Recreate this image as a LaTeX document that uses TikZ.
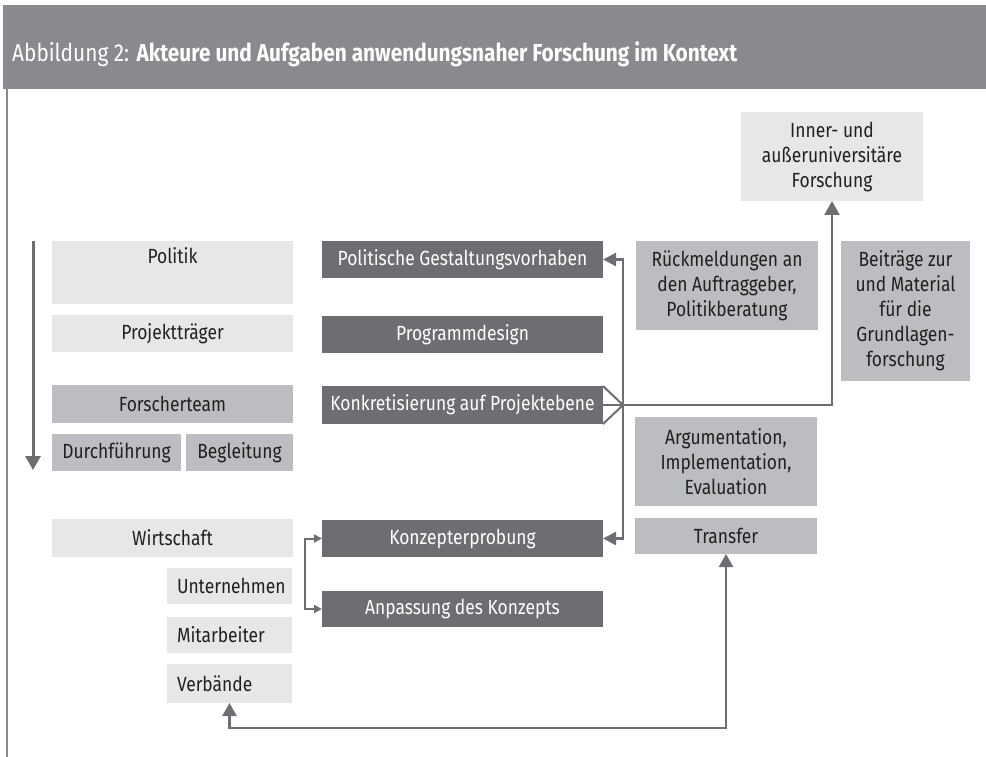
\documentclass[tikz,border=0pt]{standalone}
\usepackage{fontspec}
\setmainfont{Fira Sans}[FakeStretch=0.85]
\usetikzlibrary{arrows.meta}

\definecolor{headgray}{HTML}{898A8D}
\definecolor{lightbox}{HTML}{E6E7E8}
\definecolor{midbox}{HTML}{BCBDC0}
\definecolor{darkbox}{HTML}{6D6E71}
\definecolor{ink}{HTML}{231F20}

% box with name, top-left corner (x1,y1), bottom-right corner (x2,y2), style, text
\newcommand\bx[7]{%
  \node[#6, anchor=north west, minimum width={(#4-#2)*1pt},
        minimum height={(#5-#3)*1pt}] (#1) at (#2,#3) {#7};}

\tikzset{
  box/.style={inner sep=0pt, outer sep=0pt, align=center,
              font=\fontsize{20.5}{25}\selectfont, text=ink},
  lbox/.style={box, fill=lightbox},
  mbox/.style={box, fill=midbox},
  dbox/.style={box, fill=darkbox, text=white},
  leftbox/.style={lbox, align=left, inner xsep=10pt, text width=105pt},
  conn/.style={draw=darkbox, line width=2.4pt},
  bigtip/.style={-{Triangle[length=14pt,width=15pt]}},
  midtip/.style={-{Triangle[length=13pt,width=13pt]}},
  smalltip/.style={{Triangle[length=8pt,width=8pt]}-{Triangle[length=8pt,width=8pt]}},
  bothtip/.style={{Triangle[length=13pt,width=14pt]}-{Triangle[length=13pt,width=14pt]}},
}

\begin{document}
\begin{tikzpicture}[x=1pt,y=-1pt]
\useasboundingbox (0,0) rectangle (986,757);

% title banner and frame line
\fill[headgray] (3,5) rectangle (986,89);
\node[anchor=base west, inner sep=0pt, text=white,
      font=\fontsize{24.5}{28}\selectfont] (title) at (12,62)
  {Abbildung 2: \textbf{Akteure und Aufgaben anwendungsnaher Forschung im Kontext}};
\draw[headgray, line width=2pt] (6.5,89) -- (6.5,757);

% actors
\node[lbox, anchor=north west, minimum width=241pt, text height=22pt,
      text depth=41pt] (politik) at (52,241) {Politik};
\bx{projekt}{52}{315}{293}{352}{lbox}{Projektträger}
\bx{forscher}{52}{385}{293}{423}{mbox}{Forscherteam}
\bx{durch}{52}{434}{181}{471}{mbox}{Durchführung}
\bx{begl}{186}{434}{293}{471}{mbox}{Begleitung}
\bx{wirt}{52}{519}{293}{557}{lbox}{Wirtschaft}
\bx{unter}{167}{568}{292}{604}{leftbox}{Unternehmen}
\bx{mitarb}{167}{617}{292}{653}{leftbox}{Mitarbeiter}
\bx{verb}{167}{664}{292}{703}{leftbox}{Verbände}

% tasks
\bx{polit}{322}{241}{603}{278}{dbox}{Politische Gestaltungsvorhaben}
\bx{prog}{322}{316}{603}{353}{dbox}{Programmdesign}
\bx{konk}{322}{386}{603}{424}{dbox}{Konkretisierung auf Projektebene}
\bx{konzept}{322}{520}{603}{557}{dbox}{Konzepterprobung}
\bx{anpass}{322}{591}{603}{627}{dbox}{Anpassung des Konzepts}

% results
\bx{inner}{741}{112}{923}{201}{lbox}{Inner- und\\außeruniversitäre\\Forschung}
\bx{rueck}{636}{241}{818}{330}{mbox}{Rückmeldungen an\\den Auftraggeber,\\Politikberatung}
\bx{beitr}{841}{241}{970}{381}{mbox}{Beiträge zur\\und Material\\für die\\Grundlagen-\\forschung}
\bx{argu}{635}{417}{817}{506}{mbox}{Argumentation,\\Implementation,\\Evaluation}
\bx{transfer}{635}{518}{817}{554}{mbox}{Transfer}

% hierarchy arrow on the left
\coordinate (atop) at (33,241);
\coordinate (abot) at (33,470);
\draw[conn, line width=3pt, bigtip] (atop) -- (abot);

% branching from the project level
\coordinate (chev) at (623,405);
\draw[conn, line width=2pt] (konk.north east) -- (chev) -- (konk.south east);
\draw[conn, bigtip] (konk.east) -- (konk.east -| inner.south) -- (inner.south);
\draw[conn, midtip] (chev) |- (polit.east);
\draw[conn, midtip] (chev) |- (konzept.east);

% testing and adapting the concept
\draw[conn, line width=2pt, smalltip] (konzept.west) -- ++(-17,0) |- (anpass.west);

% transfer back to the associations
\draw[conn, bothtip] (verb.south) -- ++(0,25) -| (transfer.south);
\end{tikzpicture}
\end{document}
